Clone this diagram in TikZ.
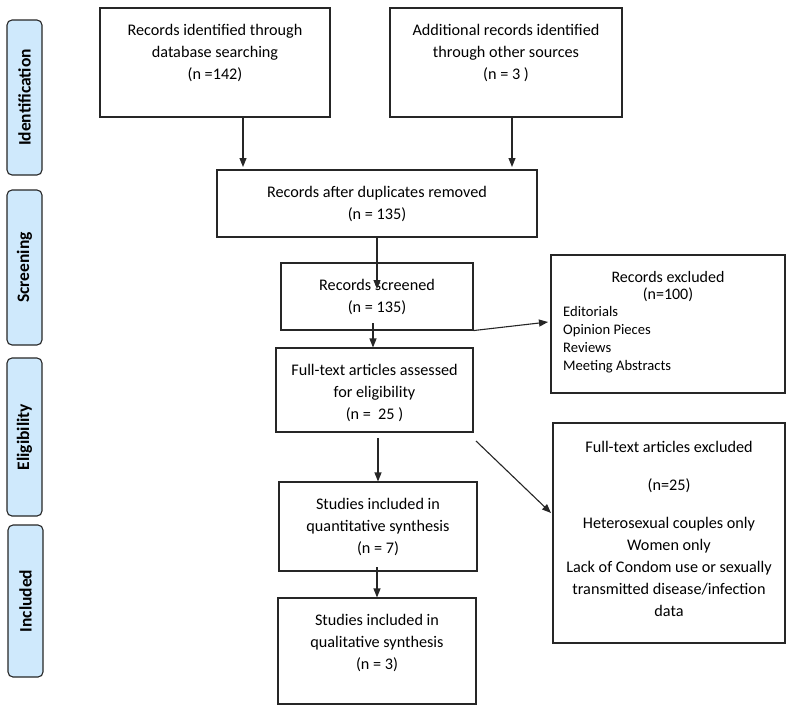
\documentclass[tikz,border=0pt]{standalone}
\usepackage{fontspec}
\setmainfont{Carlito}
\usetikzlibrary{arrows.meta,calc}
\definecolor{sidefill}{RGB}{207,233,252}
\begin{document}
\begin{tikzpicture}[x=1pt,y=-1pt,
  box/.style={draw=black!85,line width=1.1pt,rectangle,inner sep=0pt},
  side/.style={draw=black!85,line width=1.1pt,fill=sidefill,rounded corners=5pt,rectangle,inner sep=0pt},
  sidetext/.style={rotate=90,font=\fontsize{17.5}{19}\selectfont\bfseries},
  txt/.style={align=center,font=\fontsize{16.2}{22}\selectfont,inner sep=0pt},
  ltxt/.style={align=left,font=\fontsize{14.6}{18}\selectfont,inner sep=0pt,anchor=west},
  arr/.style={line width=1.1pt,draw=black!85,-{Triangle[length=9pt,width=7pt]}}]
\useasboundingbox (0,0) rectangle (794,712);
% side labels
\node[side,minimum width=35pt,minimum height=155pt] (s1) at (24.5,97.5) {};
\node[sidetext] (t1) at (s1.center) {Identification};
\node[side,minimum width=35pt,minimum height=155pt] (s2) at (24.5,267.5) {};
\node[sidetext] (t2) at (s2.center) {Screening};
\node[side,minimum width=35pt,minimum height=158pt] (s3) at (24.5,437) {};
\node[sidetext] (t3) at (s3.center) {Eligibility};
\node[side,minimum width=35pt,minimum height=152pt] (s4) at (25.5,601) {};
\node[sidetext] (t4) at (s4.center) {Included};
% boxes
\node[box,minimum width=230pt,minimum height=109pt] (A) at (215,62.5) {};
\node[txt] (tA) at (215,53) {Records identified through\\database searching\\(n =142)};
\node[box,minimum width=232pt,minimum height=109pt] (B) at (506,62.5) {};
\node[txt] (tB) at (506,53) {Additional records identified\\through other sources\\(n = 3 )};
\node[box,minimum width=320pt,minimum height=67pt] (C) at (377,203.5) {};
\node[txt] (tC) at (377,203.5) {Records after duplicates removed\\(n = 135)};
\node[box,minimum width=192pt,minimum height=67pt] (D) at (377,296.5) {};
\node[txt] (tD) at (377,296.5) {Records screened\\(n = 135)};
\node[box,minimum width=197pt,minimum height=84pt] (E) at (374.5,390) {};
\node[txt] (tE) at (374.5,393) {Full-text articles assessed\\for eligibility\\(n =\ \ 25 )};
\node[box,minimum width=234pt,minimum height=138pt] (F) at (668,324) {};
\node[txt,font=\fontsize{16}{17}\selectfont] (tF) at (668,286.5) {Records excluded\\(n=100)};
\node[ltxt] (lF) at (563,340) {Editorials\\Opinion Pieces\\Reviews\\Meeting Abstracts};
\node[box,minimum width=198pt,minimum height=89pt] (Q) at (378,526.5) {};
\node[txt] (tQ) at (378,526.5) {Studies included in\\quantitative synthesis\\(n = 7)};
\node[box,minimum width=198pt,minimum height=106pt] (L) at (377,651) {};
\node[txt] (tL) at (377,642.5) {Studies included in\\qualitative synthesis\\(n = 3)};
\node[box,minimum width=232pt,minimum height=220pt] (H) at (669,533) {};
\node[txt] (tH1) at (669,447) {Full-text articles excluded};
\node[txt] (tH2) at (669,486) {(n=25)};
\node[txt] (tH3) at (669,566.5) {Heterosexual couples only\\Women only\\Lack of Condom use or sexually\\transmitted disease/infection\\data};
% connectors
\coordinate (c1) at (243,167);
\coordinate (c2) at (512,167);
\draw[arr] (A.south -| c1) -- (c1);
\draw[arr] (B.south -| c2) -- (c2);
\coordinate (c3) at (377,289);
\draw[arr] (C.south -| c3) -- (c3);
\coordinate (c4a) at (373,323);
\draw[arr] (c4a) -- (E.north -| c4a);
\coordinate (c5) at (548,322);
\draw[arr] (D.south east) -- (c5);
\coordinate (c6a) at (378,438);
\draw[arr] (c6a) -- (Q.north -| c6a);
\coordinate (c7a) at (476,441);
\coordinate (c7) at (551,513);
\draw[arr] (c7a) -- (c7);
\coordinate (c8a) at (377,567);
\draw[arr] (c8a) -- (L.north -| c8a);
\end{tikzpicture}
\end{document}
